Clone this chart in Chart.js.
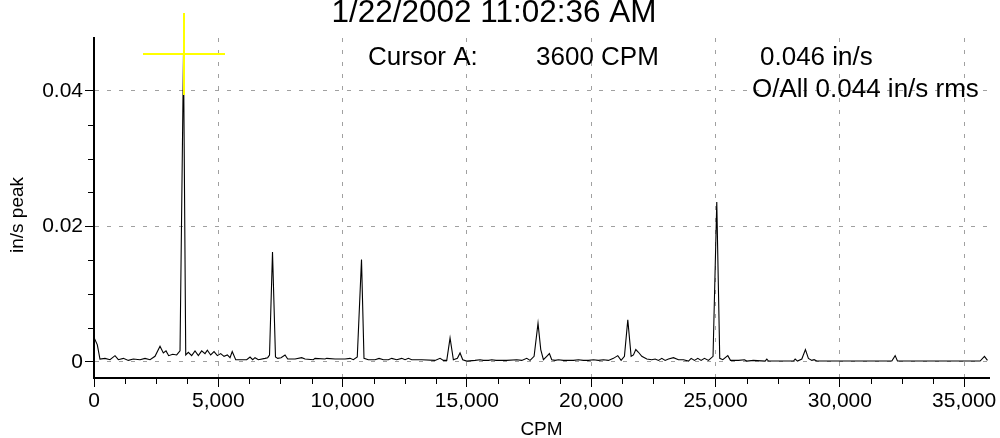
<!DOCTYPE html>
<html>
<head>
<meta charset="utf-8">
<script src="https://cdn.jsdelivr.net/npm/chart.js@4"></script>
<style>
  body { margin: 0; background: #fff; }
  #spectrum { display: block; }
</style>
</head>
<body>
<canvas id="spectrum" width="1000" height="438"></canvas>
<script>
// spectrum values (CPM vs in/s peak)
const cpm = [0, 134, 240, 443, 644, 845, 979, 1180, 1381, 1582, 1851, 2052, 2253, 2454, 2655, 2789, 2897, 3004, 3165, 3326,
  3460, 3600, 3690, 3795, 3929, 4063, 4197, 4331, 4465, 4559, 4693, 4828, 4962, 5096, 5230, 5364, 5471, 5560, 5700, 5940,
  6142, 6276, 6383, 6477, 6611, 6879, 6986, 7060, 7180, 7300, 7390, 7523, 7684, 7791, 8086, 8354, 8488, 8823, 8890, 9293,
  9360, 9695, 10097, 10298, 10432, 10590, 10760, 10860, 11036, 11305, 11466, 11640, 11841, 11975, 12177, 12378, 12512, 12646, 12780, 13183,
  13718, 13920, 14054, 14189, 14322, 14456, 14617, 14724, 14832, 14993, 15328, 15529, 15663, 15865, 16000, 16172, 16334, 16602, 17004, 17206,
  17407, 17541, 17702, 17860, 17970, 18077, 18211, 18318, 18412, 18546, 18680, 18881, 19016, 19284, 19485, 19686, 19887, 20088, 20290, 20491,
  20692, 20893, 21068, 21202, 21336, 21471, 21605, 21699, 21793, 21900, 22034, 22235, 22437, 22571, 22705, 22839, 22973, 23107, 23308, 23509,
  23711, 23912, 24019, 24153, 24287, 24421, 24555, 24716, 24900, 25050, 25170, 25293, 25494, 25601, 25923, 26164, 26258, 26523, 26995, 27063,
  27130, 28136, 28203, 28297, 28471, 28616, 28736, 28873, 28966, 29073, 32091, 32225, 32318, 35644, 35817, 35938];
const amplitude = [0.0036, 0.0025, 0.0004, 0.0005, 0.0003, 0.0009, 0.0003, 0.0005, 0.0002, 0.0004, 0.0003, 0.0005, 0.0003, 0.0008, 0.0023, 0.0013, 0.0016, 0.0009, 0.0011, 0.0010,
  0.0016, 0.0455, 0.0010, 0.0014, 0.0009, 0.0016, 0.0009, 0.0016, 0.0012, 0.0017, 0.0010, 0.0015, 0.0009, 0.0012, 0.0008, 0.0010, 0.0006, 0.0015, 0.0003, 0.0003,
  0.0003, 0.0007, 0.0003, 0.0006, 0.0003, 0.0005, 0.0006, 0.0010, 0.0162, 0.0007, 0.0005, 0.0006, 0.0010, 0.0004, 0.0004, 0.0006, 0.0004, 0.0003, 0.0005, 0.0004,
  0.0005, 0.0004, 0.0004, 0.0005, 0.0003, 0.0007, 0.0151, 0.0005, 0.0003, 0.0003, 0.0005, 0.0003, 0.0003, 0.0005, 0.0003, 0.0005, 0.0003, 0.0005, 0.0003, 0.0003,
  0.0002, 0.0005, 0.0002, 0.0002, 0.0035, 0.0003, 0.0005, 0.0013, 0.0003, 0.0001, 0.0002, 0.0003, 0.0002, 0.0002, 0.0003, 0.0002, 0.0002, 0.0002, 0.0003, 0.0002,
  0.0005, 0.0002, 0.0008, 0.0057, 0.0018, 0.0003, 0.0008, 0.0012, 0.0003, 0.0002, 0.0003, 0.0002, 0.0002, 0.0002, 0.0003, 0.0002, 0.0002, 0.0003, 0.0002, 0.0003,
  0.0002, 0.0005, 0.0009, 0.0002, 0.0008, 0.0062, 0.0008, 0.0010, 0.0018, 0.0014, 0.0008, 0.0004, 0.0003, 0.0004, 0.0002, 0.0005, 0.0002, 0.0004, 0.0006, 0.0003,
  0.0003, 0.0001, 0.0005, 0.0002, 0.0005, 0.0002, 0.0005, 0.0002, 0.0008, 0.0236, 0.0005, 0.0003, 0.0009, 0.0002, 0.0002, 0.0003, 0.0001, 0.0002, 0.0001, 0.0004,
  0.0001, 0.0001, 0.0004, 0.0001, 0.0004, 0.0018, 0.0005, 0.0002, 0.0003, 0.0001, 0.0001, 0.0009, 0.0001, 0.0001, 0.0008, 0.0002];

const xTicks = [0, 5000, 10000, 15000, 20000, 25000, 30000, 35000];
const xMinorTicks = [1250, 2500, 3750, 6250, 7500, 8750, 11250, 12500, 13750, 16250, 17500, 18750,
  21250, 22500, 23750, 26250, 27500, 28750, 31250, 32500, 33750];
const yTicks = [0, 0.02, 0.04];
const yTickLabels = ['0', '0.02', '0.04'];
const yMinorTicks = [0.005, 0.01, 0.015, 0.025, 0.03, 0.035];

const cursorCpm = 3600;
const cursorAmp = 0.0455;

const chartTitle = '1/22/2002 11:02:36 AM';
const cursorTexts = ['Cursor A:', '3600 CPM', '0.046 in/s'];
const overallText = 'O/All 0.044 in/s rms';

const FONT = "'Liberation Sans', Arial, sans-serif";

const extras = {
  id: 'extras',
  afterDatasetsDraw(chart) {
    const c = chart.ctx;
    const x = Math.round(chart.scales.x.getPixelForValue(cursorCpm));
    const y = Math.round(chart.scales.y.getPixelForValue(cursorAmp));
    c.save();
    c.strokeStyle = '#ffff00';
    c.lineWidth = 2;
    c.beginPath();
    c.moveTo(x, y - 41); c.lineTo(x, y + 41);
    c.moveTo(x - 41, y); c.lineTo(x + 41, y);
    c.stroke();
    c.restore();
  },
  afterDraw(chart) {
    const c = chart.ctx;
    const xs = chart.scales.x, ys = chart.scales.y;
    const area = chart.chartArea;
    c.save();
    // minor tick marks
    c.strokeStyle = '#000';
    c.lineWidth = 1;
    c.beginPath();
    xMinorTicks.forEach(v => {
      const px = Math.round(xs.getPixelForValue(v)) + 0.5;
      c.moveTo(px, area.bottom); c.lineTo(px, area.bottom + 6);
    });
    yMinorTicks.forEach(v => {
      const py = Math.round(ys.getPixelForValue(v)) + 0.5;
      c.moveTo(area.left, py); c.lineTo(area.left - 6, py);
    });
    c.stroke();

    c.fillStyle = '#000';
    c.textBaseline = 'alphabetic';
    c.textAlign = 'center';
    c.font = '31.5px ' + FONT;
    c.fillText(chartTitle, 494, 21.5);

    c.textAlign = 'left';
    c.font = '26px ' + FONT;
    c.fillText(cursorTexts[0], 368, 65);
    c.fillText(cursorTexts[1], 536, 65);
    c.fillText(cursorTexts[2], 760, 65);
    c.fillText(overallText, 752, 96.5);

    c.font = '19px ' + FONT;
    c.textAlign = 'center';
    c.fillText('CPM', (area.left + area.right) / 2, 435);
    c.translate(18, 215);
    c.rotate(-Math.PI / 2);
    c.textBaseline = 'middle';
    c.fillText('in/s peak', 0, 0);
    c.restore();
  }
};

var ctx = document.getElementById('spectrum').getContext('2d');

grafico = new Chart(ctx, {
  type: 'line',
  data: {
    datasets: [{
      data: cpm.map((v, i) => ({ x: v, y: amplitude[i] })),
      borderColor: '#000',
      borderWidth: 1.1,
      pointRadius: 0,
      tension: 0,
      fill: false
    }]
  },
  options: {
    responsive: false,
    animation: false,
    layout: { padding: { top: 38, right: 11, left: 0, bottom: 0 } },
    plugins: {
      legend: { display: false },
      tooltip: { enabled: false },
      title: { display: false }
    },
    scales: {
      x: {
        type: 'linear',
        min: 0,
        max: 36000,
        afterFit: s => { s.height = 60; },
        afterBuildTicks: s => { s.ticks = xTicks.map(v => ({ value: v })); },
        ticks: {
          autoSkip: false,
          maxRotation: 0,
          padding: 2,
          color: '#000',
          font: { family: FONT, size: 21 },
          callback: v => v.toLocaleString('en-US')
        },
        grid: {
          color: '#a0a0a0',
          lineWidth: 1,
          tickLength: 9,
          tickColor: '#000',
          tickWidth: 1,
          tickBorderDash: []
        },
        border: { display: true, color: '#000', width: 2, dash: [4, 8] }
      },
      y: {
        type: 'linear',
        min: -0.0024,
        max: 0.0478,
        afterFit: s => { s.width = 94; },
        afterBuildTicks: s => { s.ticks = yTicks.map(v => ({ value: v })); },
        ticks: {
          autoSkip: false,
          padding: 2,
          color: '#000',
          font: { family: FONT, size: 21 },
          callback: (v, i) => yTickLabels[i]
        },
        grid: {
          color: '#a0a0a0',
          lineWidth: 1,
          tickLength: 9,
          tickColor: '#000',
          tickWidth: 1,
          tickBorderDash: []
        },
        border: { display: true, color: '#000', width: 2, dash: [4, 8] }
      }
    }
  },
  plugins: [extras]
});
</script>
</body>
</html>
